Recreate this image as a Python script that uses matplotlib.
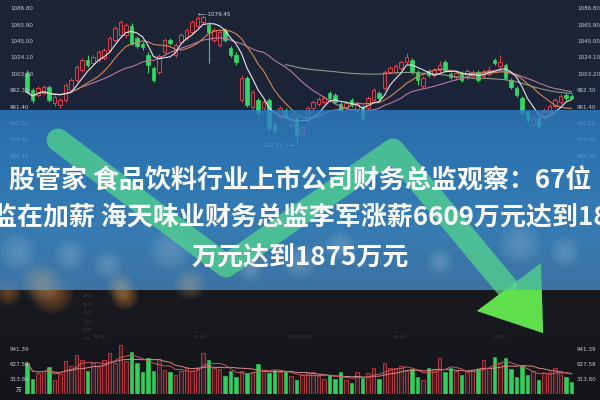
import numpy as np
import pandas as pd
import matplotlib
matplotlib.use("Agg")
import matplotlib.pyplot as plt
from matplotlib.patches import Polygon, Rectangle, Circle
from matplotlib.lines import Line2D
import matplotlib.transforms as mtrans

# ---------------- data ----------------
opens = [1004.9, 983.2, 976.7, 979.3, 987.0, 966.5, 963.9, 970.3, 983.2, 995.9,
         1008.7, 1021.5, 1017.7, 1021.5, 1024.1, 1034.3, 1047.1, 1053.5, 1053.5, 1065.0,
         1049.7, 1042.0, 1027.9, 1011.3, 1006.2, 1031.8, 1047.1, 1027.9, 1044.6, 1049.7,
         1057.4, 1065.0, 1070.2, 1066.3, 1047.1, 1040.7, 1059.9, 1036.9, 1027.9, 970.3,
         998.5, 961.4, 970.3, 960.1, 970.3, 938.4, 947.3, 957.5, 938.4, 947.3,
         926.8, 944.8, 960.1, 965.2, 967.8, 979.3, 976.7, 965.2, 960.1, 970.3,
         957.5, 961.4, 960.1, 970.3, 979.3, 985.7, 1006.2, 1006.2, 1011.3, 1019.0,
         1021.5, 1006.2, 988.3, 1007.4, 1002.3, 1008.7, 1019.0, 1003.6, 999.8, 1004.9,
         999.8, 1001.0, 1006.2, 1001.0, 1003.6, 1021.5, 1013.8, 1015.1, 995.9, 985.7,
         972.9, 955.0, 938.4, 947.3, 947.3, 955.0, 962.7, 967.8, 976.7, 975.5]
closes = [980.6, 970.3, 985.7, 987.0, 970.3, 974.2, 970.3, 989.6, 995.9, 1012.6,
          1021.5, 1015.1, 1025.4, 1031.8, 1034.3, 1049.7, 1062.5, 1070.2, 1066.3, 1042.0,
          1039.4, 1038.2, 1015.1, 995.9, 1026.6, 1047.1, 1043.3, 1040.7, 1053.5, 1059.9,
          1070.2, 1075.3, 1076.5, 1057.4, 1059.9, 1057.4, 1047.1, 1027.9, 1019.0, 998.5,
          963.9, 980.6, 955.0, 967.8, 934.5, 932.0, 960.1, 948.6, 951.1, 925.6,
          935.8, 960.1, 967.8, 971.6, 972.9, 972.9, 967.8, 957.5, 966.5, 963.9,
          965.2, 947.3, 972.9, 983.2, 972.9, 1006.2, 1011.3, 1013.8, 1019.0, 1025.4,
          1006.2, 995.9, 998.5, 1002.3, 1008.7, 1015.1, 1008.7, 999.8, 1004.9, 995.9,
          1007.4, 1006.2, 995.9, 1007.4, 1008.7, 1017.7, 1019.0, 998.5, 987.0, 976.7,
          955.0, 944.8, 947.3, 937.1, 957.5, 962.7, 970.3, 975.5, 972.9, 972.9]
highs = [1008.7, 985.7, 988.3, 989.6, 989.6, 976.7, 972.9, 992.1, 998.5, 1015.1,
         1024.1, 1027.9, 1027.9, 1034.3, 1036.9, 1052.2, 1065.0, 1072.7, 1068.8, 1068.8,
         1052.2, 1044.6, 1031.8, 1013.8, 1029.2, 1049.7, 1049.7, 1043.3, 1056.1, 1062.5,
         1072.7, 1077.8, 1079.45, 1070.2, 1062.5, 1059.9, 1062.5, 1039.4, 1031.8, 1002.3,
         1001.0, 983.2, 972.9, 970.3, 972.9, 941.0, 962.7, 960.1, 953.7, 949.9,
         938.4, 962.7, 970.3, 974.2, 975.5, 981.9, 979.3, 967.8, 969.1, 972.9,
         967.8, 963.9, 975.5, 985.7, 981.9, 1008.7, 1013.8, 1016.4, 1021.5, 1030.5,
         1024.1, 1008.7, 1001.0, 1010.0, 1011.3, 1020.2, 1021.5, 1006.2, 1007.4, 1007.4,
         1010.0, 1008.7, 1008.7, 1010.0, 1013.8, 1024.1, 1027.9, 1017.7, 998.5, 988.3,
         975.5, 957.5, 949.9, 949.9, 960.1, 965.2, 972.9, 978.0, 979.3, 978.0]
lows = [979.3, 966.5, 974.2, 976.7, 967.8, 962.7, 960.1, 967.8, 980.6, 993.4,
        1006.2, 1012.6, 1015.1, 1019.0, 1021.5, 1031.8, 1044.6, 1050.9, 1049.7, 1040.7,
        1036.9, 1034.3, 1004.9, 993.4, 1003.6, 1029.2, 1040.7, 1025.4, 1042.0, 1047.1,
        1054.8, 1062.5, 1067.6, 1017.7, 1044.6, 1038.2, 1044.6, 1025.4, 1015.1, 967.8,
        961.4, 957.5, 951.1, 957.5, 930.7, 928.1, 944.8, 946.0, 935.8, 912.25,
        924.3, 942.2, 957.5, 962.7, 965.2, 970.3, 965.2, 955.0, 957.5, 961.4,
        955.0, 944.8, 957.5, 967.8, 970.3, 983.2, 1003.6, 1003.6, 1008.7, 1016.4,
        1003.6, 989.6, 985.7, 999.8, 999.8, 1006.2, 1006.2, 997.2, 997.2, 993.4,
        997.2, 998.5, 993.4, 998.5, 1001.0, 1015.1, 1011.3, 995.9, 984.5, 974.2,
        951.1, 941.0, 935.8, 933.2, 944.8, 952.4, 960.1, 965.2, 970.3, 971.6]
volumes = [670, 313, 440, 500, 585, 290, 420, 710, 600, 835,
           730, 500, 670, 600, 730, 880, 670, 1045, 710, 900,
           670, 460, 770, 500, 750, 520, 460, 400, 500, 565,
           500, 565, 880, 730, 565, 540, 375, 500, 355, 500,
           440, 460, 650, 500, 440, 520, 460, 500, 375, 290,
           400, 440, 460, 380, 313, 400, 313, 460, 290, 230,
           460, 335, 440, 565, 313, 670, 565, 565, 600, 500,
           540, 355, 290, 565, 540, 775, 460, 565, 500, 400,
           460, 500, 540, 730, 565, 795, 670, 775, 540, 355,
           625, 400, 500, 290, 440, 460, 565, 500, 355, 250]

price_ticks = [1086.80, 1065.90, 1045.00, 1024.10, 1003.20, 982.30, 961.40, 940.50, 919.60, 898.70]
volume_ticks = [941.39, 627.59, 313.80]
volume_unit = "万"
max_label = "1079.45"
min_label = "912.25"
title_lines = ["股管家 食品饮料行业上市公司财务总监观察：67位",
               "监在加薪 海天味业财务总监李军涨薪6609万元达到18",
               "万元达到1875万元"]
faint_time_labels = ["10:30", "11:00", "11:30/13:00", "14:00", "15:00"]
faint_value_labels = ["28.0", "20.0", "12.0", "8.0", "4.00", "0.0"]

# arrow decoration (pixel waypoints of the overlay graphic)
arrow_x = [58, 226, 393, 506]
arrow_y = [140, 266, 150, 286]
arrow_head = [(477, 311), (541, 263), (543, 333)]

# ---------------- figure ----------------
W, H = 600, 400
fig = plt.figure(figsize=(6, 4), dpi=100)
fig.patch.set_facecolor("#1b2130")


def px_axes(x0, y0, x1, y1, z=0):
    a = fig.add_axes([x0 / W, 1 - y1 / H, (x1 - x0) / W, (y1 - y0) / H])
    a.set_zorder(z)
    a.patch.set_alpha(0)
    a.axis("off")
    return a

# background gradient
bg = px_axes(0, 0, 600, 400, z=0)
ys = np.arange(400)
stops_y = [0, 110, 290, 400]
r = np.interp(ys, stops_y, [31, 27, 24, 19])
g = np.interp(ys, stops_y, [37, 36, 26, 21])
b = np.interp(ys, stops_y, [52, 55, 32, 26])
grad = np.stack([r, g, b], axis=1)[:, None, :] / 255.0
grad = np.repeat(grad, 2, axis=1)
bg.imshow(grad, extent=[0, 600, 400, 0], aspect="auto")
bg.set_xlim(0, 600)
bg.set_ylim(400, 0)

n = len(closes)
idx = np.arange(n)
xlim = (-27 / 5.5, 573 / 5.5)
lab_fs = 4.1
lab_col = "#c3c8d2"

# ---------------- price panel ----------------
ax = px_axes(0, 0, 600, 170, z=1)
ax.set_xlim(*xlim)
ax.set_ylim(880.8, 1098.3)
o = np.array(opens); c = np.array(closes)
up = c >= o
red_edge = "#d8434f"
red_fill = "#2c1f2b"
green = "#34d864"
ax.vlines(idx[up], np.array(lows)[up], np.array(highs)[up], color=red_edge, lw=0.8, zorder=2)
ax.vlines(idx[~up], np.array(lows)[~up], np.array(highs)[~up], color=green, lw=0.8, zorder=2)
ax.bar(idx[up], (c - o)[up], bottom=o[up], width=0.72, facecolor=red_fill,
       edgecolor=red_edge, linewidth=0.7, zorder=3)
ax.bar(idx[~up], (c - o)[~up], bottom=o[~up], width=0.72, facecolor=green,
       edgecolor=green, linewidth=0.5, zorder=3)

s = pd.Series(closes)
ax.plot(idx, s.rolling(60, min_periods=48).mean(), color="#8a9a84", lw=0.8, zorder=4)
ax.plot(idx, s.rolling(20, min_periods=6).mean(), color="#b77aa6", lw=0.8, zorder=4)
ax.plot(idx, s.rolling(10, min_periods=1).mean(), color="#d28758", lw=0.8, zorder=4)
ax.plot(idx, s.rolling(5, min_periods=1).mean(), color="#e4e6ee", lw=0.8, zorder=5)

tr = mtrans.blended_transform_factory(ax.transAxes, ax.transData)
for t in price_ticks:
    ax.text(10 / W, t, f"{t:.2f}", transform=tr, fontsize=lab_fs, color=lab_col,
            va="center", ha="left")
    ax.text(577 / W, t, f"{t:.2f}", transform=tr, fontsize=lab_fs, color=lab_col,
            va="center", ha="left")
imax = int(np.argmax(highs)); imin = int(np.argmin(lows))
ax.text(imax - 0.9, float(max_label), "\u2190\u2014" + max_label, fontsize=lab_fs,
        color="#d6d9e0", va="center", ha="left")
ax.text(imin - 0.3, float(min_label), min_label + " \u2014\u2192", fontsize=lab_fs,
        color="#d6d9e0", va="center", ha="right")

# ---------------- volume panel ----------------
vx = px_axes(0, 340, 600, 394, z=1)
vx.set_xlim(*xlim)
vx.set_ylim(0, 1155)
v = np.array(volumes)
vx.bar(idx[up], v[up], width=0.72, facecolor="#451c24", edgecolor="#b3343d",
       linewidth=0.7)
vx.bar(idx[~up], v[~up], width=0.72, facecolor="#2fd15c", edgecolor="#2fd15c",
       linewidth=0.4)
vs = pd.Series(volumes)
vx.plot(idx, vs.rolling(10, min_periods=1).mean(), color="#d98c8c", lw=0.7)
vx.plot(idx, vs.rolling(5, min_periods=1).mean(), color="#c85a5a", lw=0.7)
vtr = mtrans.blended_transform_factory(vx.transAxes, vx.transData)
for t in volume_ticks:
    vx.text(10 / W, t, f"{t:.2f}", transform=vtr, fontsize=lab_fs, color=lab_col,
            va="center", ha="left")
    vx.text(577 / W, t, f"{t:.2f}", transform=vtr, fontsize=lab_fs, color=lab_col,
            va="center", ha="left")
vx.text(16 / W, 85, volume_unit, transform=vtr, fontsize=lab_fs, color=lab_col,
        va="center", ha="left", family=["Noto Sans CJK SC", "DejaVu Sans"])

# ---------------- overlay (band, arrow, title) ----------------
ov = px_axes(0, 0, 600, 400, z=5)
ov.set_xlim(0, 600)
ov.set_ylim(400, 0)

# faint secondary chart labels in the dark middle strip
for k, lab in enumerate(faint_value_labels):
    ov.text(92, 296 + 8.6 * k, lab, fontsize=3.2, color="#8a8f98", alpha=0.35,
            ha="right", va="center")
for k, lab in enumerate(faint_time_labels):
    ov.text(100 + 100 * k, 337, lab, fontsize=3.2, color="#8a8f98", alpha=0.35,
            ha="center", va="center")

# warm bokeh glows just below the band
for (cx, cy, rad, col) in [(52, 292, 22, "#e08a3a"), (125, 296, 14, "#e8923a"),
                           (8, 292, 14, "#c07a3a")]:
    for k in range(8):
        ov.add_patch(Circle((cx, cy), rad * (1 - k / 9), color=col, alpha=0.07, lw=0))

# blue band
by = np.arange(180)
bst = [0, 60, 120, 180]
br = np.interp(by, bst, [44, 52, 62, 72])
bgc = np.interp(by, bst, [128, 141, 147, 138])
bb = np.interp(by, bst, [200, 212, 214, 196])
band = np.stack([br / 255, bgc / 255, bb / 255, np.full(180, 0.8)], axis=1)[:, None, :]
band = np.repeat(band, 2, axis=1)
ov.imshow(band, extent=[0, 600, 290, 110], aspect="auto", zorder=1)

# bokeh in the band
for (cx, cy, rad) in [(18, 252, 20), (70, 255, 17), (108, 265, 15), (170, 250, 22),
                      (300, 262, 18), (340, 246, 16), (520, 244, 22), (565, 252, 16),
                      (250, 268, 14), (440, 262, 14)]:
    for k in range(6):
        ov.add_patch(Circle((cx, cy), rad * (1 - k / 7), color="#c9dbe6", alpha=0.045,
                            lw=0, zorder=2))
for (cx, cy, rad) in [(40, 282, 20), (120, 286, 14), (190, 284, 16)]:
    for k in range(6):
        ov.add_patch(Circle((cx, cy), rad * (1 - k / 7), color="#e3c48a", alpha=0.05,
                            lw=0, zorder=2))

# arrow
arrow_col = "#54d98b"
ov.add_line(Line2D(arrow_x, arrow_y, lw=16.5, color=arrow_col, alpha=0.72,
                   solid_capstyle="round", solid_joinstyle="round", zorder=3))
ov.add_patch(Polygon(arrow_head, closed=True, facecolor=arrow_col, edgecolor="none",
                     alpha=0.72, zorder=3))
head2 = Polygon(arrow_head, closed=True, facecolor="#62e24a", edgecolor="none",
                alpha=0.95, zorder=4)
ov.add_patch(head2)
head2.set_clip_path(Rectangle((0, 290), 600, 110, transform=ov.transData))

# title text
cjk = ["Noto Sans CJK SC", "DejaVu Sans"]
for text, yy in zip(title_lines, [181, 218, 258]):
    ov.text(300, yy, text, ha="center", va="center", fontsize=18.7, color="white",
            fontweight="bold", family=cjk, zorder=6)

fig.savefig("out.png", dpi=100)
